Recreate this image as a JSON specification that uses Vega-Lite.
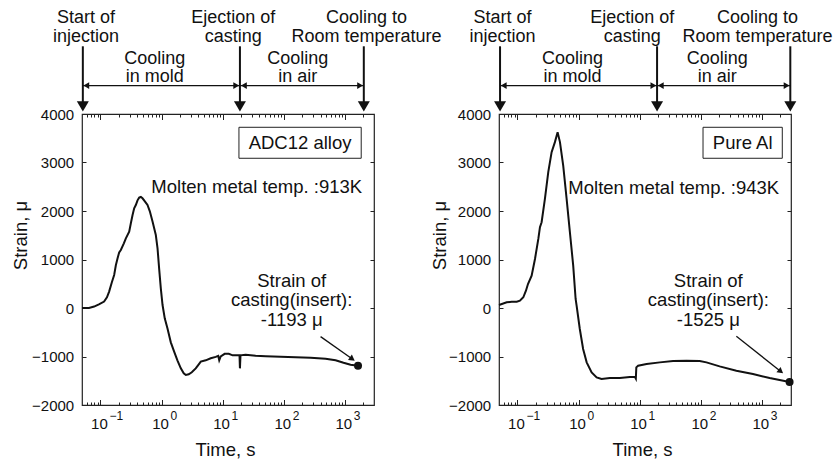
{
  "$schema": "https://vega.github.io/schema/vega-lite/v6.json",
  "background": "white",
  "padding": {"left": 10, "top": 8, "right": 0, "bottom": 0},
  "autosize": {"type": "pad"},
  "config": {
    "font": "Liberation Sans",
    "view": {"stroke": "#222", "strokeWidth": 1.2},
    "axis": {"domain": false, "grid": false, "labelFont": "Liberation Sans", "labelFontSize": 15, "labelColor": "#111", "tickColor": "#222", "tickWidth": 1, "titleFont": "Liberation Sans", "titleFontSize": 18.5, "titleFontWeight": "normal", "titleColor": "#111", "labelFlush": false, "labelOverlap": false},
    "text": {"font": "Liberation Sans", "color": "#111"}
  },
  "datasets": {
    "curve": [
      {"panel":"A","t":0.05,"s":0},{"panel":"A","t":0.065,"s":0},{"panel":"A","t":0.079,"s":30},{"panel":"A","t":0.0945,"s":76},{"panel":"A","t":0.115,"s":132},{"panel":"A","t":0.128,"s":220},{"panel":"A","t":0.139,"s":338},{"panel":"A","t":0.154,"s":530},{"panel":"A","t":0.168,"s":680},{"panel":"A","t":0.179,"s":880},{"panel":"A","t":0.191,"s":1025},{"panel":"A","t":0.203,"s":1148},{"panel":"A","t":0.216,"s":1196},{"panel":"A","t":0.242,"s":1334},{"panel":"A","t":0.261,"s":1437},{"panel":"A","t":0.296,"s":1575},{"panel":"A","t":0.315,"s":1746},{"panel":"A","t":0.336,"s":1917},{"panel":"A","t":0.357,"s":2056},{"panel":"A","t":0.38,"s":2124},{"panel":"A","t":0.405,"s":2220},{"panel":"A","t":0.431,"s":2276},{"panel":"A","t":0.459,"s":2289},{"panel":"A","t":0.489,"s":2262},{"panel":"A","t":0.534,"s":2200},{"panel":"A","t":0.59,"s":2124},{"panel":"A","t":0.644,"s":1994},{"panel":"A","t":0.713,"s":1781},{"panel":"A","t":0.807,"s":1505},{"panel":"A","t":0.861,"s":1231},{"panel":"A","t":0.914,"s":818},{"panel":"A","t":0.974,"s":406},{"panel":"A","t":1.04,"s":62},{"panel":"A","t":1.13,"s":-213},{"panel":"A","t":1.25,"s":-419},{"panel":"A","t":1.42,"s":-708},{"panel":"A","t":1.61,"s":-899},{"panel":"A","t":1.82,"s":-1079},{"panel":"A","t":2.07,"s":-1244},{"panel":"A","t":2.31,"s":-1347},{"panel":"A","t":2.5,"s":-1382},{"panel":"A","t":2.79,"s":-1367},{"panel":"A","t":3.13,"s":-1326},{"panel":"A","t":3.63,"s":-1244},{"panel":"A","t":4.07,"s":-1161},{"panel":"A","t":4.39,"s":-1106},{"panel":"A","t":5.29,"s":-1079},{"panel":"A","t":6.39,"s":-1037},{"panel":"A","t":7.71,"s":-1007},{"panel":"A","t":8.47,"s":-986},{"panel":"A","t":8.8,"s":-1079},{"panel":"A","t":9.31,"s":-996},{"panel":"A","t":10.8,"s":-945},{"panel":"A","t":12.6,"s":-945},{"panel":"A","t":14.6,"s":-976},{"panel":"A","t":17,"s":-976},{"panel":"A","t":18.9,"s":-976},{"panel":"A","t":19.2,"s":-1244},{"panel":"A","t":19.6,"s":-976},{"panel":"A","t":23.8,"s":-965},{"panel":"A","t":34.8,"s":-986},{"panel":"A","t":50.6,"s":-996},{"panel":"A","t":89,"s":-1007},{"panel":"A","t":156,"s":-1017},{"panel":"A","t":275,"s":-1027},{"panel":"A","t":484,"s":-1048},{"panel":"A","t":705,"s":-1079},{"panel":"A","t":952,"s":-1130},{"panel":"A","t":1240,"s":-1171},{"panel":"A","t":1643,"s":-1193},
      {"panel":"B","t":0.05,"s":62},{"panel":"B","t":0.0669,"s":117},{"panel":"B","t":0.0807,"s":130},{"panel":"B","t":0.0975,"s":130},{"panel":"B","t":0.11,"s":150},{"panel":"B","t":0.125,"s":221},{"panel":"B","t":0.138,"s":357},{"panel":"B","t":0.149,"s":495},{"panel":"B","t":0.171,"s":667},{"panel":"B","t":0.194,"s":1011},{"panel":"B","t":0.22,"s":1424},{"panel":"B","t":0.234,"s":1666},{"panel":"B","t":0.249,"s":1769},{"panel":"B","t":0.282,"s":2250},{"panel":"B","t":0.32,"s":2801},{"panel":"B","t":0.363,"s":3214},{"panel":"B","t":0.411,"s":3420},{"panel":"B","t":0.455,"s":3626},{"panel":"B","t":0.497,"s":3420},{"panel":"B","t":0.562,"s":2937},{"panel":"B","t":0.639,"s":2250},{"panel":"B","t":0.723,"s":1562},{"panel":"B","t":0.819,"s":873},{"panel":"B","t":0.897,"s":186},{"panel":"B","t":0.931,"s":47},{"panel":"B","t":1.05,"s":-433},{"panel":"B","t":1.19,"s":-846},{"panel":"B","t":1.36,"s":-1121},{"panel":"B","t":1.64,"s":-1327},{"panel":"B","t":1.98,"s":-1430},{"panel":"B","t":2.38,"s":-1465},{"panel":"B","t":3.26,"s":-1445},{"panel":"B","t":4.75,"s":-1445},{"panel":"B","t":6.92,"s":-1424},{"panel":"B","t":8.35,"s":-1418},{"panel":"B","t":8.67,"s":-1455},{"panel":"B","t":8.83,"s":-1224},{"panel":"B","t":9.45,"s":-1191},{"panel":"B","t":13,"s":-1156},{"panel":"B","t":21.4,"s":-1121},{"panel":"B","t":35.3,"s":-1094},{"panel":"B","t":58.4,"s":-1088},{"panel":"B","t":96.3,"s":-1094},{"panel":"B","t":124,"s":-1121},{"panel":"B","t":204,"s":-1203},{"panel":"B","t":383,"s":-1294},{"panel":"B","t":716,"s":-1362},{"panel":"B","t":1341,"s":-1445},{"panel":"B","t":2845,"s":-1525}
    ],
    "ends": [{"panel":"A","t":1643,"s":-1193},{"panel":"B","t":2845,"s":-1525}],
    "vlines": [
      {"panel":"A","t":0.0516,"s":5396,"s2":4157},{"panel":"A","t":19.2,"s":5396,"s2":4157},{"panel":"A","t":2043,"s":5396,"s2":4157},
      {"panel":"B","t":0.052,"s":5396,"s2":4157},{"panel":"B","t":19.3,"s":5396,"s2":4157},{"panel":"B","t":2923,"s":5396,"s2":4157}
    ],
    "hlines": [
      {"panel":"A","t":0.0516,"t2":19.2,"s":4586},{"panel":"A","t":19.2,"t2":2043,"s":4586},
      {"panel":"B","t":0.052,"t2":19.3,"s":4586},{"panel":"B","t":19.3,"t2":2923,"s":4586}
    ],
    "hleft": [{"panel":"A","t":0.0588,"s":4586},{"panel":"A","t":22.3,"s":4586},{"panel":"B","t":0.0597,"s":4586},{"panel":"B","t":22.2,"s":4586}],
    "hright": [{"panel":"A","t":16.7,"s":4586},{"panel":"A","t":1778,"s":4586},{"panel":"B","t":16.8,"s":4586},{"panel":"B","t":2543,"s":4586}],
    "toptext": [
      {"panel":"A","t":0.058,"s":5870,"label":"Start of\ninjection"},{"panel":"A","t":14.9,"s":5870,"label":"Ejection of\ncasting"},{"panel":"A","t":2264,"s":5870,"label":"Cooling to\nRoom temperature"},
      {"panel":"B","t":0.0571,"s":5870,"label":"Start of\ninjection"},{"panel":"B","t":7.6,"s":5870,"label":"Ejection of\ncasting"},{"panel":"B","t":851,"s":5870,"label":"Cooling to\nRoom temperature"}
    ],
    "midtext": [
      {"panel":"A","t":0.777,"s":5027,"label":"Cooling\nin mold"},{"panel":"A","t":169,"s":5027,"label":"Cooling\nin air"},
      {"panel":"B","t":0.795,"s":5027,"label":"Cooling\nin mold"},{"panel":"B","t":186,"s":5027,"label":"Cooling\nin air"}
    ],
    "diag": [{"panel":"A","t":401,"s":-590,"t2":1326,"s2":-1052},{"panel":"B","t":383,"s":-584,"t2":2043,"s2":-1307}],
    "dhead": [{"panel":"A","t":1326,"s":-1052},{"panel":"B","t":2043,"s":-1307}],
    "box": [{"panel":"A","t":18.5,"t2":1853,"s":3087,"s2":3726},{"panel":"B","t":109,"t2":2160,"s":3087,"s2":3726}],
    "boxtext": [{"panel":"A","t":185,"s":3406,"label":"ADC12 alloy"},{"panel":"B","t":486,"s":3406,"label":"Pure Al"}],
    "molten": [{"panel":"A","t":1920,"s":2365,"label":"Molten metal temp. :913K"},{"panel":"B","t":1920,"s":2360,"label":"Molten metal temp. :943K"}],
    "straintext": [{"panel":"A","t":135,"s":441,"label":"Strain of\ncasting(insert):\n-1193 μ"},{"panel":"B","t":133,"s":435,"label":"Strain of\ncasting(insert):\n-1525 μ"}]
  },
  "spacing": 125,
  "bounds": "flush",
  "hconcat": [
    {
      "width": 292, "height": 291,
      "resolve": {"axis": {"x": "independent", "y": "independent"}},
      "layer": [
        {"data": {"name": "curve"}, "transform": [{"filter": "datum.panel == 'A'"}],
         "mark": {"type": "line", "color": "#111", "strokeWidth": 2},
         "encoding": {
           "x": {"field": "t", "type": "quantitative", "scale": {"type": "log", "domain": [0.05, 3000], "nice": false},
                 "axis": {"orient": "bottom", "values": [0.1, 1, 10, 100, 1000], "tickSize": -5.5, "labelExpr": "'10'", "labelPadding": 17, "labelOffset": -1.5, "title": "Time,  s", "titleX": 143, "titleY": 50, "titleBaseline": "alphabetic"}},
           "y": {"field": "s", "type": "quantitative", "scale": {"domain": [-2000, 4000], "nice": false, "zero": false},
                 "axis": {"orient": "left", "values": [-2000, -1000, 0, 1000, 2000, 3000, 4000], "tickSize": -4, "format": "d", "labelPadding": 12.3, "title": "Strain,  μ", "titleX": -56, "titleY": 121, "titleBaseline": "alphabetic", "titleAngle": -90}}
         }},
        {"data": {"name": "ends"}, "transform": [{"filter": "datum.panel == 'A'"}],
         "mark": {"type": "point", "shape": "circle", "filled": true, "color": "#111", "size": 64, "opacity": 1},
         "encoding": {
           "x": {"field": "t", "type": "quantitative", "scale": {"type": "log", "domain": [0.05, 3000], "nice": false},
                 "axis": {"orient": "bottom", "values": [0.06,0.07,0.08,0.09,0.2,0.3,0.4,0.5,0.6,0.7,0.8,0.9,2,3,4,5,6,7,8,9,20,30,40,50,60,70,80,90,200,300,400,500,600,700,800,900,2000], "tickSize": -3, "labels": false, "title": null}},
           "y": {"field": "s", "type": "quantitative", "scale": {"domain": [-2000, 4000], "nice": false, "zero": false},
                 "axis": {"orient": "right", "values": [-1000, 0, 1000, 2000, 3000], "tickSize": -4, "labels": false, "title": null}}
         }},
        {"data": {"name": "vlines"}, "transform": [{"filter": "datum.panel == 'A'"}],
         "mark": {"type": "rule", "color": "#111", "strokeWidth": 2},
         "encoding": {
           "x": {"field": "t", "type": "quantitative", "scale": {"type": "log", "domain": [0.05, 3000], "nice": false},
                 "axis": {"orient": "top", "values": [0.1, 1, 10, 100, 1000], "tickSize": -5.5, "labels": false, "title": null}},
           "y": {"field": "s", "type": "quantitative", "scale": {"domain": [-2000, 4000], "nice": false, "zero": false}, "axis": null},
           "y2": {"field": "s2"}
         }},
        {"data": {"name": "vlines"}, "transform": [{"filter": "datum.panel == 'A'"}],
         "mark": {"type": "point", "shape": "triangle-down", "filled": true, "color": "#111", "size": 144, "opacity": 1},
         "encoding": {
           "x": {"field": "t", "type": "quantitative", "scale": {"type": "log", "domain": [0.05, 3000], "nice": false},
                 "axis": {"orient": "top", "values": [0.06,0.07,0.08,0.09,0.2,0.3,0.4,0.5,0.6,0.7,0.8,0.9,2,3,4,5,6,7,8,9,20,30,40,50,60,70,80,90,200,300,400,500,600,700,800,900,2000], "tickSize": -3, "labels": false, "title": null}},
           "y": {"field": "s2", "type": "quantitative", "scale": {"domain": [-2000, 4000], "nice": false, "zero": false}, "axis": null}
         }},
        {"data": {"name": "toptext"}, "transform": [{"filter": "datum.panel == 'A'"}],
         "mark": {"type": "text", "fontSize": 18, "lineHeight": 18.3, "lineBreak": "\n", "align": "center", "baseline": "alphabetic", "color": "#111"},
         "encoding": {
           "x": {"field": "t", "type": "quantitative", "scale": {"type": "log", "domain": [0.05, 3000], "nice": false},
                 "axis": {"orient": "bottom", "values": [0.1, 1, 10, 100, 1000], "ticks": false, "tickSize": 0, "labelExpr": "datum.value < 0.5 ? '−1' : datum.value < 5 ? '0' : datum.value < 50 ? '1' : datum.value < 500 ? '2' : '3'", "labelFontSize": 12, "labelAlign": "left", "labelOffset": 8.5, "labelPadding": 5.3, "title": null}},
           "y": {"field": "s", "type": "quantitative", "scale": {"domain": [-2000, 4000], "nice": false, "zero": false}, "axis": null},
           "text": {"field": "label", "type": "nominal"}
         }},
        {"data": {"name": "midtext"}, "transform": [{"filter": "datum.panel == 'A'"}],
         "mark": {"type": "text", "fontSize": 18, "lineHeight": 18.3, "lineBreak": "\n", "align": "center", "baseline": "alphabetic", "color": "#111"},
         "encoding": {
           "x": {"field": "t", "type": "quantitative", "scale": {"type": "log", "domain": [0.05, 3000], "nice": false}, "axis": null},
           "y": {"field": "s", "type": "quantitative", "scale": {"domain": [-2000, 4000], "nice": false, "zero": false}, "axis": null},
           "text": {"field": "label", "type": "nominal"}
         }},
        {"data": {"name": "hlines"}, "transform": [{"filter": "datum.panel == 'A'"}],
         "mark": {"type": "rule", "color": "#111", "strokeWidth": 1.3},
         "encoding": {
           "x": {"field": "t", "type": "quantitative", "scale": {"type": "log", "domain": [0.05, 3000], "nice": false}, "axis": null},
           "x2": {"field": "t2"},
           "y": {"field": "s", "type": "quantitative", "scale": {"domain": [-2000, 4000], "nice": false, "zero": false}, "axis": null}
         }},
        {"data": {"name": "hleft"}, "transform": [{"filter": "datum.panel == 'A'"}],
         "mark": {"type": "point", "shape": "triangle-left", "filled": true, "color": "#111", "size": 45, "opacity": 1},
         "encoding": {
           "x": {"field": "t", "type": "quantitative", "scale": {"type": "log", "domain": [0.05, 3000], "nice": false}, "axis": null},
           "y": {"field": "s", "type": "quantitative", "scale": {"domain": [-2000, 4000], "nice": false, "zero": false}, "axis": null}
         }},
        {"data": {"name": "hright"}, "transform": [{"filter": "datum.panel == 'A'"}],
         "mark": {"type": "point", "shape": "triangle-right", "filled": true, "color": "#111", "size": 45, "opacity": 1},
         "encoding": {
           "x": {"field": "t", "type": "quantitative", "scale": {"type": "log", "domain": [0.05, 3000], "nice": false}, "axis": null},
           "y": {"field": "s", "type": "quantitative", "scale": {"domain": [-2000, 4000], "nice": false, "zero": false}, "axis": null}
         }},
        {"data": {"name": "diag"}, "transform": [{"filter": "datum.panel == 'A'"}],
         "mark": {"type": "rule", "color": "#111", "strokeWidth": 1.3},
         "encoding": {
           "x": {"field": "t", "type": "quantitative", "scale": {"type": "log", "domain": [0.05, 3000], "nice": false}, "axis": null},
           "x2": {"field": "t2"},
           "y": {"field": "s", "type": "quantitative", "scale": {"domain": [-2000, 4000], "nice": false, "zero": false}, "axis": null},
           "y2": {"field": "s2"}
         }},
        {"data": {"name": "dhead"}, "transform": [{"filter": "datum.panel == 'A'"}],
         "mark": {"type": "point", "shape": "triangle-right", "filled": true, "color": "#111", "size": 45, "opacity": 1, "angle": 35},
         "encoding": {
           "x": {"field": "t", "type": "quantitative", "scale": {"type": "log", "domain": [0.05, 3000], "nice": false}, "axis": null},
           "y": {"field": "s", "type": "quantitative", "scale": {"domain": [-2000, 4000], "nice": false, "zero": false}, "axis": null}
         }},
        {"data": {"name": "box"}, "transform": [{"filter": "datum.panel == 'A'"}],
         "mark": {"type": "rect", "fill": "white", "stroke": "#222", "strokeWidth": 1},
         "encoding": {
           "x": {"field": "t", "type": "quantitative", "scale": {"type": "log", "domain": [0.05, 3000], "nice": false}, "axis": null},
           "x2": {"field": "t2"},
           "y": {"field": "s", "type": "quantitative", "scale": {"domain": [-2000, 4000], "nice": false, "zero": false}, "axis": null},
           "y2": {"field": "s2"}
         }},
        {"data": {"name": "boxtext"}, "transform": [{"filter": "datum.panel == 'A'"}],
         "mark": {"type": "text", "fontSize": 18.5, "align": "center", "baseline": "middle", "color": "#111"},
         "encoding": {
           "x": {"field": "t", "type": "quantitative", "scale": {"type": "log", "domain": [0.05, 3000], "nice": false}, "axis": null},
           "y": {"field": "s", "type": "quantitative", "scale": {"domain": [-2000, 4000], "nice": false, "zero": false}, "axis": null},
           "text": {"field": "label", "type": "nominal"}
         }},
        {"data": {"name": "molten"}, "transform": [{"filter": "datum.panel == 'A'"}],
         "mark": {"type": "text", "fontSize": 18.5, "align": "right", "baseline": "alphabetic", "color": "#111"},
         "encoding": {
           "x": {"field": "t", "type": "quantitative", "scale": {"type": "log", "domain": [0.05, 3000], "nice": false}, "axis": null},
           "y": {"field": "s", "type": "quantitative", "scale": {"domain": [-2000, 4000], "nice": false, "zero": false}, "axis": null},
           "text": {"field": "label", "type": "nominal"}
         }},
        {"data": {"name": "straintext"}, "transform": [{"filter": "datum.panel == 'A'"}],
         "mark": {"type": "text", "fontSize": 18.5, "lineHeight": 19.5, "lineBreak": "\n", "align": "center", "baseline": "alphabetic", "color": "#111"},
         "encoding": {
           "x": {"field": "t", "type": "quantitative", "scale": {"type": "log", "domain": [0.05, 3000], "nice": false}, "axis": null},
           "y": {"field": "s", "type": "quantitative", "scale": {"domain": [-2000, 4000], "nice": false, "zero": false}, "axis": null},
           "text": {"field": "label", "type": "nominal"}
         }}
      ]
    },
    {
      "width": 292, "height": 291,
      "resolve": {"axis": {"x": "independent", "y": "independent"}},
      "layer": [
        {"data": {"name": "curve"}, "transform": [{"filter": "datum.panel == 'B'"}],
         "mark": {"type": "line", "color": "#111", "strokeWidth": 2},
         "encoding": {
           "x": {"field": "t", "type": "quantitative", "scale": {"type": "log", "domain": [0.05, 3000], "nice": false},
                 "axis": {"orient": "bottom", "values": [0.1, 1, 10, 100, 1000], "tickSize": -5.5, "labelExpr": "'10'", "labelPadding": 17, "labelOffset": -1.5, "title": "Time,  s", "titleX": 143, "titleY": 50, "titleBaseline": "alphabetic"}},
           "y": {"field": "s", "type": "quantitative", "scale": {"domain": [-2000, 4000], "nice": false, "zero": false},
                 "axis": {"orient": "left", "values": [-2000, -1000, 0, 1000, 2000, 3000, 4000], "tickSize": -4, "format": "d", "labelPadding": 12.3, "title": "Strain,  μ", "titleX": -54, "titleY": 121, "titleBaseline": "alphabetic", "titleAngle": -90}}
         }},
        {"data": {"name": "ends"}, "transform": [{"filter": "datum.panel == 'B'"}],
         "mark": {"type": "point", "shape": "circle", "filled": true, "color": "#111", "size": 64, "opacity": 1},
         "encoding": {
           "x": {"field": "t", "type": "quantitative", "scale": {"type": "log", "domain": [0.05, 3000], "nice": false},
                 "axis": {"orient": "bottom", "values": [0.06,0.07,0.08,0.09,0.2,0.3,0.4,0.5,0.6,0.7,0.8,0.9,2,3,4,5,6,7,8,9,20,30,40,50,60,70,80,90,200,300,400,500,600,700,800,900,2000], "tickSize": -3, "labels": false, "title": null}},
           "y": {"field": "s", "type": "quantitative", "scale": {"domain": [-2000, 4000], "nice": false, "zero": false},
                 "axis": {"orient": "right", "values": [-1000, 0, 1000, 2000, 3000], "tickSize": -4, "labels": false, "title": null}}
         }},
        {"data": {"name": "vlines"}, "transform": [{"filter": "datum.panel == 'B'"}],
         "mark": {"type": "rule", "color": "#111", "strokeWidth": 2},
         "encoding": {
           "x": {"field": "t", "type": "quantitative", "scale": {"type": "log", "domain": [0.05, 3000], "nice": false},
                 "axis": {"orient": "top", "values": [0.1, 1, 10, 100, 1000], "tickSize": -5.5, "labels": false, "title": null}},
           "y": {"field": "s", "type": "quantitative", "scale": {"domain": [-2000, 4000], "nice": false, "zero": false}, "axis": null},
           "y2": {"field": "s2"}
         }},
        {"data": {"name": "vlines"}, "transform": [{"filter": "datum.panel == 'B'"}],
         "mark": {"type": "point", "shape": "triangle-down", "filled": true, "color": "#111", "size": 144, "opacity": 1},
         "encoding": {
           "x": {"field": "t", "type": "quantitative", "scale": {"type": "log", "domain": [0.05, 3000], "nice": false},
                 "axis": {"orient": "top", "values": [0.06,0.07,0.08,0.09,0.2,0.3,0.4,0.5,0.6,0.7,0.8,0.9,2,3,4,5,6,7,8,9,20,30,40,50,60,70,80,90,200,300,400,500,600,700,800,900,2000], "tickSize": -3, "labels": false, "title": null}},
           "y": {"field": "s2", "type": "quantitative", "scale": {"domain": [-2000, 4000], "nice": false, "zero": false}, "axis": null}
         }},
        {"data": {"name": "toptext"}, "transform": [{"filter": "datum.panel == 'B'"}],
         "mark": {"type": "text", "fontSize": 18, "lineHeight": 18.3, "lineBreak": "\n", "align": "center", "baseline": "alphabetic", "color": "#111"},
         "encoding": {
           "x": {"field": "t", "type": "quantitative", "scale": {"type": "log", "domain": [0.05, 3000], "nice": false},
                 "axis": {"orient": "bottom", "values": [0.1, 1, 10, 100, 1000], "ticks": false, "tickSize": 0, "labelExpr": "datum.value < 0.5 ? '−1' : datum.value < 5 ? '0' : datum.value < 50 ? '1' : datum.value < 500 ? '2' : '3'", "labelFontSize": 12, "labelAlign": "left", "labelOffset": 8.5, "labelPadding": 5.3, "title": null}},
           "y": {"field": "s", "type": "quantitative", "scale": {"domain": [-2000, 4000], "nice": false, "zero": false}, "axis": null},
           "text": {"field": "label", "type": "nominal"}
         }},
        {"data": {"name": "midtext"}, "transform": [{"filter": "datum.panel == 'B'"}],
         "mark": {"type": "text", "fontSize": 18, "lineHeight": 18.3, "lineBreak": "\n", "align": "center", "baseline": "alphabetic", "color": "#111"},
         "encoding": {
           "x": {"field": "t", "type": "quantitative", "scale": {"type": "log", "domain": [0.05, 3000], "nice": false}, "axis": null},
           "y": {"field": "s", "type": "quantitative", "scale": {"domain": [-2000, 4000], "nice": false, "zero": false}, "axis": null},
           "text": {"field": "label", "type": "nominal"}
         }},
        {"data": {"name": "hlines"}, "transform": [{"filter": "datum.panel == 'B'"}],
         "mark": {"type": "rule", "color": "#111", "strokeWidth": 1.3},
         "encoding": {
           "x": {"field": "t", "type": "quantitative", "scale": {"type": "log", "domain": [0.05, 3000], "nice": false}, "axis": null},
           "x2": {"field": "t2"},
           "y": {"field": "s", "type": "quantitative", "scale": {"domain": [-2000, 4000], "nice": false, "zero": false}, "axis": null}
         }},
        {"data": {"name": "hleft"}, "transform": [{"filter": "datum.panel == 'B'"}],
         "mark": {"type": "point", "shape": "triangle-left", "filled": true, "color": "#111", "size": 45, "opacity": 1},
         "encoding": {
           "x": {"field": "t", "type": "quantitative", "scale": {"type": "log", "domain": [0.05, 3000], "nice": false}, "axis": null},
           "y": {"field": "s", "type": "quantitative", "scale": {"domain": [-2000, 4000], "nice": false, "zero": false}, "axis": null}
         }},
        {"data": {"name": "hright"}, "transform": [{"filter": "datum.panel == 'B'"}],
         "mark": {"type": "point", "shape": "triangle-right", "filled": true, "color": "#111", "size": 45, "opacity": 1},
         "encoding": {
           "x": {"field": "t", "type": "quantitative", "scale": {"type": "log", "domain": [0.05, 3000], "nice": false}, "axis": null},
           "y": {"field": "s", "type": "quantitative", "scale": {"domain": [-2000, 4000], "nice": false, "zero": false}, "axis": null}
         }},
        {"data": {"name": "diag"}, "transform": [{"filter": "datum.panel == 'B'"}],
         "mark": {"type": "rule", "color": "#111", "strokeWidth": 1.3},
         "encoding": {
           "x": {"field": "t", "type": "quantitative", "scale": {"type": "log", "domain": [0.05, 3000], "nice": false}, "axis": null},
           "x2": {"field": "t2"},
           "y": {"field": "s", "type": "quantitative", "scale": {"domain": [-2000, 4000], "nice": false, "zero": false}, "axis": null},
           "y2": {"field": "s2"}
         }},
        {"data": {"name": "dhead"}, "transform": [{"filter": "datum.panel == 'B'"}],
         "mark": {"type": "point", "shape": "triangle-right", "filled": true, "color": "#111", "size": 45, "opacity": 1, "angle": 38},
         "encoding": {
           "x": {"field": "t", "type": "quantitative", "scale": {"type": "log", "domain": [0.05, 3000], "nice": false}, "axis": null},
           "y": {"field": "s", "type": "quantitative", "scale": {"domain": [-2000, 4000], "nice": false, "zero": false}, "axis": null}
         }},
        {"data": {"name": "box"}, "transform": [{"filter": "datum.panel == 'B'"}],
         "mark": {"type": "rect", "fill": "white", "stroke": "#222", "strokeWidth": 1},
         "encoding": {
           "x": {"field": "t", "type": "quantitative", "scale": {"type": "log", "domain": [0.05, 3000], "nice": false}, "axis": null},
           "x2": {"field": "t2"},
           "y": {"field": "s", "type": "quantitative", "scale": {"domain": [-2000, 4000], "nice": false, "zero": false}, "axis": null},
           "y2": {"field": "s2"}
         }},
        {"data": {"name": "boxtext"}, "transform": [{"filter": "datum.panel == 'B'"}],
         "mark": {"type": "text", "fontSize": 18.5, "align": "center", "baseline": "middle", "color": "#111"},
         "encoding": {
           "x": {"field": "t", "type": "quantitative", "scale": {"type": "log", "domain": [0.05, 3000], "nice": false}, "axis": null},
           "y": {"field": "s", "type": "quantitative", "scale": {"domain": [-2000, 4000], "nice": false, "zero": false}, "axis": null},
           "text": {"field": "label", "type": "nominal"}
         }},
        {"data": {"name": "molten"}, "transform": [{"filter": "datum.panel == 'B'"}],
         "mark": {"type": "text", "fontSize": 18.5, "align": "right", "baseline": "alphabetic", "color": "#111"},
         "encoding": {
           "x": {"field": "t", "type": "quantitative", "scale": {"type": "log", "domain": [0.05, 3000], "nice": false}, "axis": null},
           "y": {"field": "s", "type": "quantitative", "scale": {"domain": [-2000, 4000], "nice": false, "zero": false}, "axis": null},
           "text": {"field": "label", "type": "nominal"}
         }},
        {"data": {"name": "straintext"}, "transform": [{"filter": "datum.panel == 'B'"}],
         "mark": {"type": "text", "fontSize": 18.5, "lineHeight": 19.5, "lineBreak": "\n", "align": "center", "baseline": "alphabetic", "color": "#111"},
         "encoding": {
           "x": {"field": "t", "type": "quantitative", "scale": {"type": "log", "domain": [0.05, 3000], "nice": false}, "axis": null},
           "y": {"field": "s", "type": "quantitative", "scale": {"domain": [-2000, 4000], "nice": false, "zero": false}, "axis": null},
           "text": {"field": "label", "type": "nominal"}
         }}
      ]
    }
  ]
}
